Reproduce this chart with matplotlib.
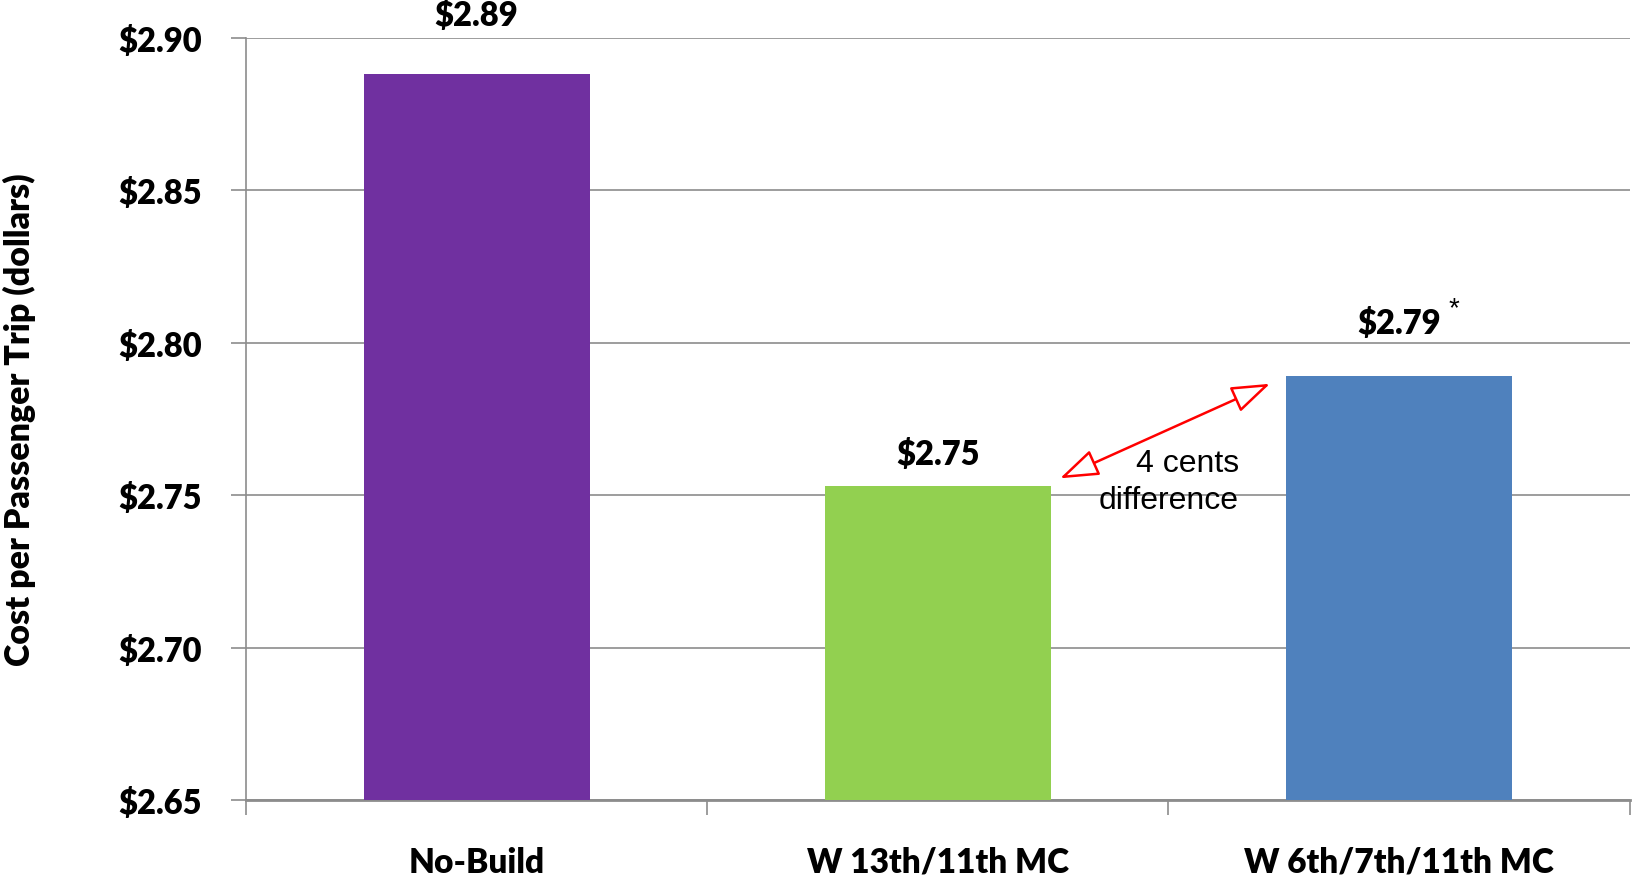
import numpy as np
import matplotlib.pyplot as plt
from matplotlib.ticker import FixedLocator

# Data
categories = ["No-Build", "W 13th/11th MC", "W 6th/7th/11th MC"]
costs = [2.888, 2.753, 2.789]
value_labels = ["$2.89", "$2.75", "$2.79"]
bar_colors = ["#7030A0", "#92D050", "#4F81BD"]
y_ticks = [2.65, 2.70, 2.75, 2.80, 2.85, 2.90]
y_tick_labels = ["$2.65", "$2.70", "$2.75", "$2.80", "$2.85", "$2.90"]

# Style
bold_font = "Lato"
heavy = "heavy"
grid_color = "#8c8c8c"
bar_width = 0.49
label_offsets = [0.0195, 0.0106, 0.0174]

fig = plt.figure(figsize=(16.33, 8.79), dpi=100)
ax = fig.add_axes([0.1506, 0.0887, 0.8474, 0.8673])

x = np.arange(len(categories))
bars = ax.bar(x, costs, width=bar_width, color=bar_colors, zorder=3)

ax.set_xlim(-0.5, len(categories) - 0.5)
ax.set_ylim(2.65, 2.90)

# y axis
ax.set_yticks(y_ticks)
ax.set_yticklabels(y_tick_labels, fontfamily=bold_font, fontweight=heavy, fontsize=23.5)
ax.tick_params(axis="y", direction="out", length=11, width=1.2, color=grid_color, pad=21)
ax.yaxis.grid(True, color=grid_color, linewidth=1.2, zorder=0)

# x axis: labels centred, tick marks at category boundaries
ax.set_xticks(x)
ax.set_xticklabels(categories, fontfamily=bold_font, fontweight=heavy, fontsize=24)
ax.tick_params(axis="x", which="major", length=0, pad=33)
ax.xaxis.set_minor_locator(FixedLocator(np.arange(len(categories) + 1) - 0.5))
ax.tick_params(axis="x", which="minor", direction="out", length=11, width=1.2, color=grid_color)

for side in ["top", "right"]:
    ax.spines[side].set_visible(False)
ax.spines["left"].set_color(grid_color)
ax.spines["left"].set_linewidth(1.2)
ax.spines["bottom"].set_color(grid_color)
ax.spines["bottom"].set_linewidth(2)

ax.set_ylabel("Cost per Passenger Trip (dollars)", fontfamily=bold_font,
              fontweight=heavy, fontsize=24.5, va="center")
ax.yaxis.set_label_coords(-0.164, 0.5)

# Value labels above bars
for xi, v, lab, off in zip(x, costs, value_labels, label_offsets):
    ax.text(xi, v + off, lab, ha="center", va="center", fontfamily=bold_font,
            fontweight=heavy, fontsize=23.5, clip_on=False)
ax.text(x[2] + 0.107, costs[2] + 0.0222, "*", ha="left", va="center",
        fontfamily="Liberation Sans", fontsize=20)

# Difference arrow between bar 2 and bar 3
start = (x[1] + bar_width / 2 + 0.02, costs[1] + 0.0025)
end = (x[2] - bar_width / 2 - 0.035, costs[2] - 0.0025)
ax.annotate("", xy=end, xytext=start,
            arrowprops=dict(arrowstyle="<|-|>,head_length=1.2,head_width=0.42",
                            mutation_scale=20, edgecolor="red", facecolor="white",
                            linewidth=1.8, shrinkA=0, shrinkB=0), zorder=5)
ax.text(x[1] + 0.653, costs[1] + 0.0015, "4 cents\ndifference",
        ha="right", va="center", multialignment="right",
        fontfamily="Liberation Sans", fontsize=23, linespacing=1.3, zorder=6)

fig.savefig("out.png", dpi=100)
